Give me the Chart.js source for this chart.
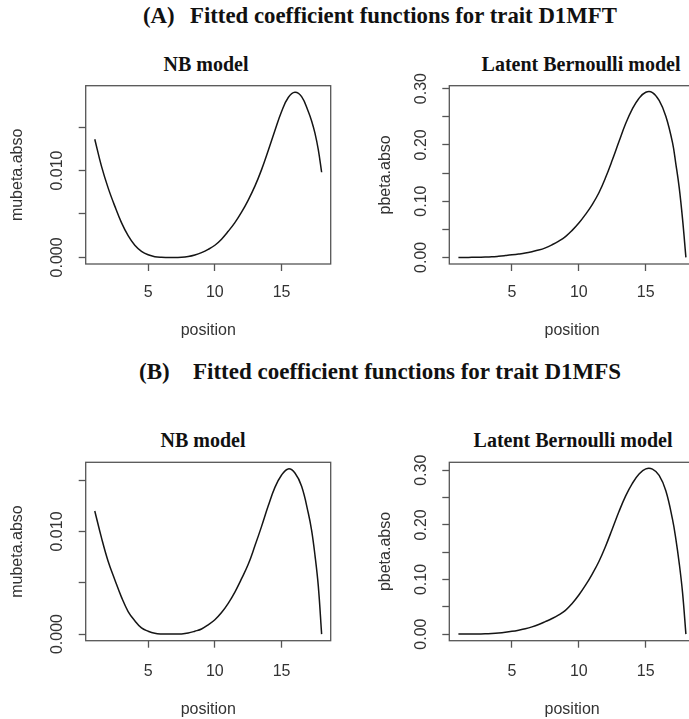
<!DOCTYPE html>
<html>
<head>
<meta charset="utf-8">
<script src="https://cdn.jsdelivr.net/npm/chart.js@4.4.1/dist/chart.umd.min.js"></script>
<style>
  html, body { margin: 0; padding: 0; background: #fff; overflow: hidden; }
  #wrap { position: relative; width: 689px; height: 719px; overflow: hidden; background: #fff; }
  .hd { position: absolute; font-family: 'Liberation Serif', 'Times New Roman', serif; font-weight: bold;
        color: #111; white-space: nowrap; }
  .main { font-size: 22.8px; line-height: 22.8px; }
  .pt { transform: translateX(-50%); font-size: 20px; line-height: 20px; }
  canvas { position: absolute; }
</style>
</head>
<body>
<div id="wrap">
  <div class="hd main" style="left:143px; top:4.5px;">(A)</div>
  <div class="hd main" style="left:190px; top:4.5px;">Fitted coefficient functions for trait D1MFT</div>
  <div class="hd main" style="left:139px; top:361px; font-size:23px;">(B)</div>
  <div class="hd main" style="left:193px; top:361px; font-size:23px;">Fitted coefficient functions for trait D1MFS</div>

  <div class="hd pt" style="left:206px; top:54px;">NB model</div>
  <div class="hd pt" style="left:581px; top:54px;">Latent Bernoulli model</div>
  <div class="hd pt" style="left:203px; top:430px;">NB model</div>
  <div class="hd pt" style="left:573px; top:430px;">Latent Bernoulli model</div>

  <canvas id="nbA"></canvas>
  <canvas id="bernA"></canvas>
  <canvas id="nbB"></canvas>
  <canvas id="bernB"></canvas>
</div>

<script>
// Marker positions along the trait (x axis)
const positions = [1, 1.5, 2, 2.5, 3, 3.5, 4, 4.5, 5, 5.5, 6, 6.5, 7, 7.5, 8, 8.5, 9, 9.5,
  10, 10.5, 11, 11.5, 12, 12.5, 13, 13.5, 14, 14.5, 15, 15.5, 16, 16.5, 17, 17.25, 17.5, 17.75, 18];

// (A) trait D1MFT
const nbMuA = [0.0136, 0.0105, 0.0080, 0.0059, 0.0040, 0.0025, 0.0014, 0.0007, 0.0003, 0.00008,
  0.00001, 0, 0, 0.00001, 0.0001, 0.00028, 0.00055, 0.00092,
  0.0014, 0.0021, 0.0030, 0.0040, 0.0052, 0.0066, 0.0082, 0.0101, 0.0123, 0.0146, 0.0168,
  0.0184, 0.0190, 0.0185, 0.0168, 0.0157, 0.0143, 0.0124, 0.0098];
const bernPA = [0, 0, 0.0001, 0.0003, 0.0005, 0.0010, 0.0020, 0.0032, 0.0045, 0.0060,
  0.0078, 0.0102, 0.0130, 0.0170, 0.0225, 0.0290, 0.0370, 0.0480,
  0.0610, 0.0765, 0.0940, 0.1150, 0.1420, 0.1730, 0.2060, 0.2380, 0.2640, 0.2830, 0.2935,
  0.2930, 0.2790, 0.2510, 0.2040, 0.1660, 0.1240, 0.0680, 0];

// (B) trait D1MFS
const nbMuB = [0.0120, 0.0094, 0.0071, 0.0053, 0.0036, 0.0022, 0.0013, 0.0006, 0.00028, 0.00008,
  0.00001, 0, 0, 0.00001, 0.0001, 0.00028, 0.0005, 0.0009,
  0.0014, 0.0021, 0.0030, 0.0041, 0.0054, 0.0068, 0.0086, 0.0105, 0.0125, 0.0143, 0.0155,
  0.0161, 0.0157, 0.0144, 0.0118, 0.0101, 0.0077, 0.0047, 0];
const bernPB = [0, 0, 0.0001, 0.0003, 0.0005, 0.0011, 0.0020, 0.0033, 0.0050, 0.0072,
  0.0098, 0.0132, 0.0175, 0.0228, 0.0285, 0.0352, 0.0435, 0.0560,
  0.0715, 0.0895, 0.1100, 0.1330, 0.1610, 0.1925, 0.2245, 0.2530, 0.2760, 0.2930, 0.3025,
  0.3020, 0.2905, 0.2625, 0.2100, 0.1740, 0.1300, 0.0760, 0];

// Tick values and labels
const xTicks = [5, 10, 15];
const nbYTicks = [0, 0.005, 0.010, 0.015];
const nbYTickLabels = ['0.000', '', '0.010', ''];
const bernYTicks = [0, 0.05, 0.10, 0.15, 0.20, 0.25, 0.30];
const bernYTickLabels = ['0.00', '', '0.10', '', '0.20', '', '0.30'];

const INK = '#333';
const AXIS = '#555';
const SANS = "'Liberation Sans', Arial, sans-serif";

// R-style full box around the plotting region
const frameBox = {
  id: 'frameBox',
  afterDraw(chart) {
    const { ctx, chartArea: a } = chart;
    ctx.save();
    ctx.strokeStyle = AXIS;
    ctx.lineWidth = 1.3;
    ctx.strokeRect(a.left, a.top, a.right - a.left, a.bottom - a.top);
    ctx.restore();
  }
};

function makePanel(id, g, values, yTicks, yLabels, yTitle) {
  const cv = document.getElementById(id);
  cv.width = g.w; cv.height = g.h;
  cv.style.left = g.left + 'px'; cv.style.top = g.top + 'px';
  cv.style.width = g.w + 'px'; cv.style.height = g.h + 'px';

  const maxV = Math.max(...values);
  const minV = Math.min(...values);
  const span = maxV - minV;
  const xSpan = positions[positions.length - 1] - positions[0];

  return new Chart(cv, {
    type: 'line',
    data: {
      datasets: [{
        data: positions.map((x, i) => ({ x: x, y: values[i] })),
        borderColor: '#151515',
        borderWidth: 1.5,
        pointRadius: 0,
        fill: false,
        tension: 0.4
      }]
    },
    options: {
      responsive: false,
      animation: false,
      devicePixelRatio: 1,
      layout: { padding: { left: 0, top: g.box.t - g.top, right: g.left + g.w - g.box.r, bottom: 0 } },
      plugins: { legend: { display: false }, tooltip: { enabled: false }, title: { display: false } },
      scales: {
        x: {
          type: 'linear',
          min: positions[0] - 0.04 * xSpan,
          max: positions[positions.length - 1] + 0.04 * xSpan,
          afterBuildTicks: s => { s.ticks = xTicks.map(v => ({ value: v })); },
          afterFit: s => { s.height = g.top + g.h - g.box.b; },
          border: { display: false },
          grid: { display: true, drawOnChartArea: false, drawTicks: true, tickLength: 7, tickColor: AXIS, tickWidth: 1.3 },
          ticks: {
            autoSkip: false, maxRotation: 0, minRotation: 0,
            padding: g.xTickPad, color: INK,
            font: { family: SANS, size: 16, lineHeight: 1 },
            callback: v => String(v)
          },
          title: {
            display: true, text: 'position', color: INK,
            font: { family: SANS, size: 16, lineHeight: 1 },
            padding: { top: 0, bottom: g.xTitlePad }
          }
        },
        y: {
          type: 'linear',
          min: minV - 0.04 * span,
          max: maxV + 0.04 * span,
          afterBuildTicks: s => { s.ticks = yTicks.map(v => ({ value: v })); },
          afterFit: s => { s.width = g.box.l - g.left; },
          border: { display: false },
          grid: { display: true, drawOnChartArea: false, drawTicks: true, tickLength: 7, tickColor: AXIS, tickWidth: 1.3 },
          ticks: {
            autoSkip: false, minRotation: 90, maxRotation: 90, crossAlign: 'center',
            padding: g.yTickPad, color: INK,
            font: { family: SANS, size: 16, lineHeight: 1 },
            callback: (v, i) => yLabels[i]
          },
          title: {
            display: true, text: yTitle, color: INK,
            font: { family: SANS, size: 16, lineHeight: 1 },
            padding: { top: g.yTitlePad, bottom: 0 }
          }
        }
      }
    },
    plugins: [frameBox]
  });
}

makePanel('nbA', { left: 0, top: 60, w: 345, h: 285, box: { l: 85.7, t: 85.7, r: 330.7, b: 264 },
  xTickPad: 13.5, xTitlePad: 6, yTickPad: 1.2, yTitlePad: 10 }, nbMuA, nbYTicks, nbYTickLabels, 'mubeta.abso');
makePanel('bernA', { left: 345, top: 60, w: 360, h: 285, box: { l: 449.3, t: 85.7, r: 695, b: 264 },
  xTickPad: 13.5, xTitlePad: 6, yTickPad: 5.5, yTitlePad: 33 }, bernPA, bernYTicks, bernYTickLabels, 'pbeta.abso');
makePanel('nbB', { left: 0, top: 437, w: 345, h: 282, box: { l: 85.7, t: 462.3, r: 330.7, b: 640.7 },
  xTickPad: 15.5, xTitlePad: 1.5, yTickPad: 1.2, yTitlePad: 10 }, nbMuB, nbYTicks, nbYTickLabels, 'mubeta.abso');
makePanel('bernB', { left: 345, top: 437, w: 360, h: 282, box: { l: 449.3, t: 462.3, r: 695, b: 640.7 },
  xTickPad: 15.5, xTitlePad: 1.5, yTickPad: 5.5, yTitlePad: 33 }, bernPB, bernYTicks, bernYTickLabels, 'pbeta.abso');
</script>
</body>
</html>
